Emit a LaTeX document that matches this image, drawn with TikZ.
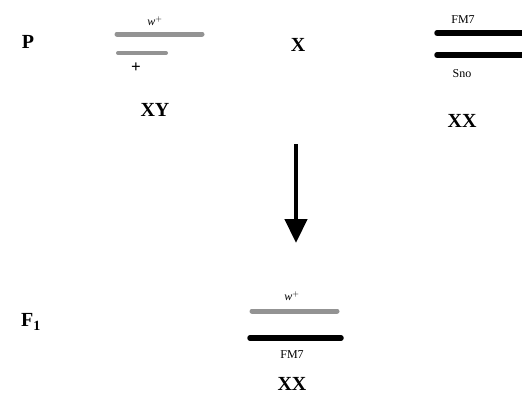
\documentclass[tikz,border=0pt]{standalone}
\usepackage{fontspec}
\setmainfont{Liberation Serif}
\usetikzlibrary{arrows.meta}
\begin{document}
\begin{tikzpicture}[x=1pt,y=-1pt,
  lbl/.style={font=\bfseries\fontsize{20}{20}\selectfont, inner sep=0pt},
  small/.style={font=\fontsize{12}{12}\selectfont, inner sep=0pt},
  graybar/.style={draw=gray!85, line width=5pt, line cap=round},
  blackbar/.style={draw=black, line width=5.5pt, line cap=round}]
\useasboundingbox (0,0) rectangle (522,399);
% Parents row
\node[lbl] (P) at (28,42) {P};
\coordinate (a1) at (117,34); \coordinate (a2) at (202,34);
\draw[graybar] (a1) -- (a2);
\coordinate (b1) at (118,53); \coordinate (b2) at (166,53);
\draw[graybar, line width=4pt] (b1) -- (b2);
\node[small] (wp1) at (155,21) {\textit{w}$^{+}$};
\node[font=\bfseries\fontsize{17}{17}\selectfont, inner sep=0pt] (plus) at (136,68) {+};
\node[lbl] (XY) at (155,110) {XY};
\node[lbl] (X) at (298,45) {X};
\coordinate (c1) at (437,33); \coordinate (c2) at (526,33);
\draw[blackbar] (c1) -- (c2);
\coordinate (d1) at (437,55); \coordinate (d2) at (526,55);
\draw[blackbar] (d1) -- (d2);
\node[small] (fm1) at (463,20) {FM7};
\node[small] (sno) at (462,74) {Sno};
\node[lbl] (XX1) at (462,121) {XX};
% Arrow
\coordinate (t1) at (296,144); \coordinate (t2) at (296,243);
\draw[line width=4.5pt, -{Triangle[length=24pt,width=22pt]}] (t1) -- (t2);
% F1 row
\node[lbl] (F1) at (31,322) {F\textsubscript{1}};
\coordinate (e1) at (252,311); \coordinate (e2) at (337,311);
\draw[graybar] (e1) -- (e2);
\coordinate (f1) at (250,338); \coordinate (f2) at (341,338);
\draw[blackbar] (f1) -- (f2);
\node[small] (wp2) at (292,296) {\textit{w}$^{+}$};
\node[small] (fm2) at (292,355) {FM7};
\node[lbl] (XX2) at (292,384) {XX};
\end{tikzpicture}
\end{document}
